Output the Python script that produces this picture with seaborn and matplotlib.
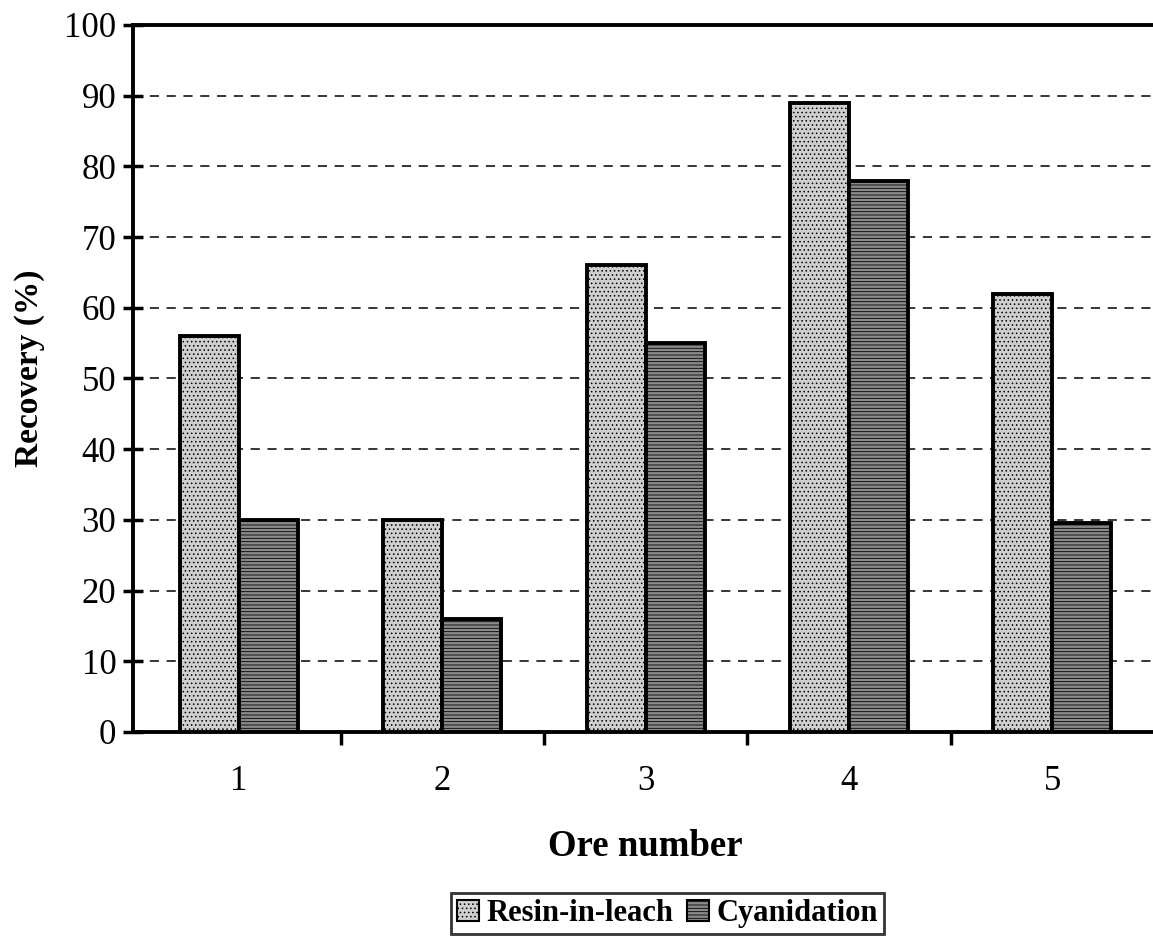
import matplotlib
matplotlib.use("Agg")
import matplotlib.pyplot as plt
import seaborn as sns
import pandas as pd
import numpy as np

ores = ["1", "2", "3", "4", "5"]
resin_in_leach = [56, 30, 66, 89, 62]
cyanidation = [30, 16, 55, 78, 29.5]
methods = ["Resin-in-leach", "Cyanidation"]
y_ticks = [0, 10, 20, 30, 40, 50, 60, 70, 80, 90, 100]

df = pd.DataFrame({
    "Ore": ores * 2,
    "Method": [methods[0]] * len(ores) + [methods[1]] * len(ores),
    "Recovery": resin_in_leach + cyanidation,
})

sns.set_style("white")
plt.rcParams["font.family"] = ["Liberation Serif", "DejaVu Serif"]
plt.rcParams["text.color"] = "black"
plt.rcParams["axes.labelcolor"] = "black"
plt.rcParams["xtick.color"] = "black"
plt.rcParams["ytick.color"] = "black"
plt.rcParams["hatch.color"] = "#555555"
plt.rcParams["hatch.linewidth"] = 0.6

fig = plt.figure(figsize=(11.53, 9.43), dpi=100)
ax = fig.add_axes([0.1154, 0.2238, 0.889, 0.7497])

palette = {methods[0]: "#cfcfcf", methods[1]: "#8a8a8a"}
sns.barplot(data=df, x="Ore", y="Recovery", hue="Method", palette=palette,
            width=0.58, gap=0, edgecolor="black", linewidth=2.8,
            saturation=1, ax=ax, legend=False)

hatches = {methods[0]: "....", methods[1]: "-----"}
for container, m in zip(ax.containers, methods):
    for bar in container:
        bar.set_hatch(hatches[m])
        bar.set_zorder(3)

ax.set_ylim(0, 100)
ax.set_xlim(-0.52, 4.52)
ax.set_yticks(y_ticks)
ax.yaxis.grid(True, linestyle=(0, (6, 5)), color="black", linewidth=1.1)
ax.set_axisbelow(True)
ax.xaxis.grid(False)

for s in ["left", "bottom", "top"]:
    ax.spines[s].set_visible(True)
    ax.spines[s].set_color("black")
    ax.spines[s].set_linewidth(2.8)
ax.spines["right"].set_visible(False)

ax.tick_params(axis="y", which="both", direction="inout", length=14, width=2.5,
               left=True, labelsize=25, pad=5)
ax.set_xticks(range(len(ores)))
ax.set_xticklabels(ores)
ax.tick_params(axis="x", which="major", length=0, labelsize=25, pad=24)
ax.set_xticks(np.arange(0.5, len(ores) - 0.5, 1.0), minor=True)
ax.tick_params(axis="x", which="minor", bottom=True, direction="out",
               length=9, width=2.5)

ax.set_ylabel("Recovery (%)", fontsize=24, fontweight="bold")
ax.yaxis.set_label_coords(-0.086, 0.515)
ax.set_xlabel("Ore number", fontsize=26.5, fontweight="bold", labelpad=22)

handles = [plt.Rectangle((0, 0), 1, 1, facecolor=palette[m], edgecolor="black",
                         hatch=hatches[m], linewidth=1.5) for m in methods]
leg = fig.legend(handles, methods, loc="center", bbox_to_anchor=(0.579, 0.031),
                 ncol=2, frameon=True, fancybox=False, edgecolor="black",
                 prop={"family": "Liberation Serif", "weight": "bold", "size": 22},
                 handlelength=0.7, handleheight=0.7, handletextpad=0.25,
                 columnspacing=0.45, borderpad=0.2)
leg.get_frame().set_linewidth(2.0)

fig.savefig("out.png", dpi=100)
